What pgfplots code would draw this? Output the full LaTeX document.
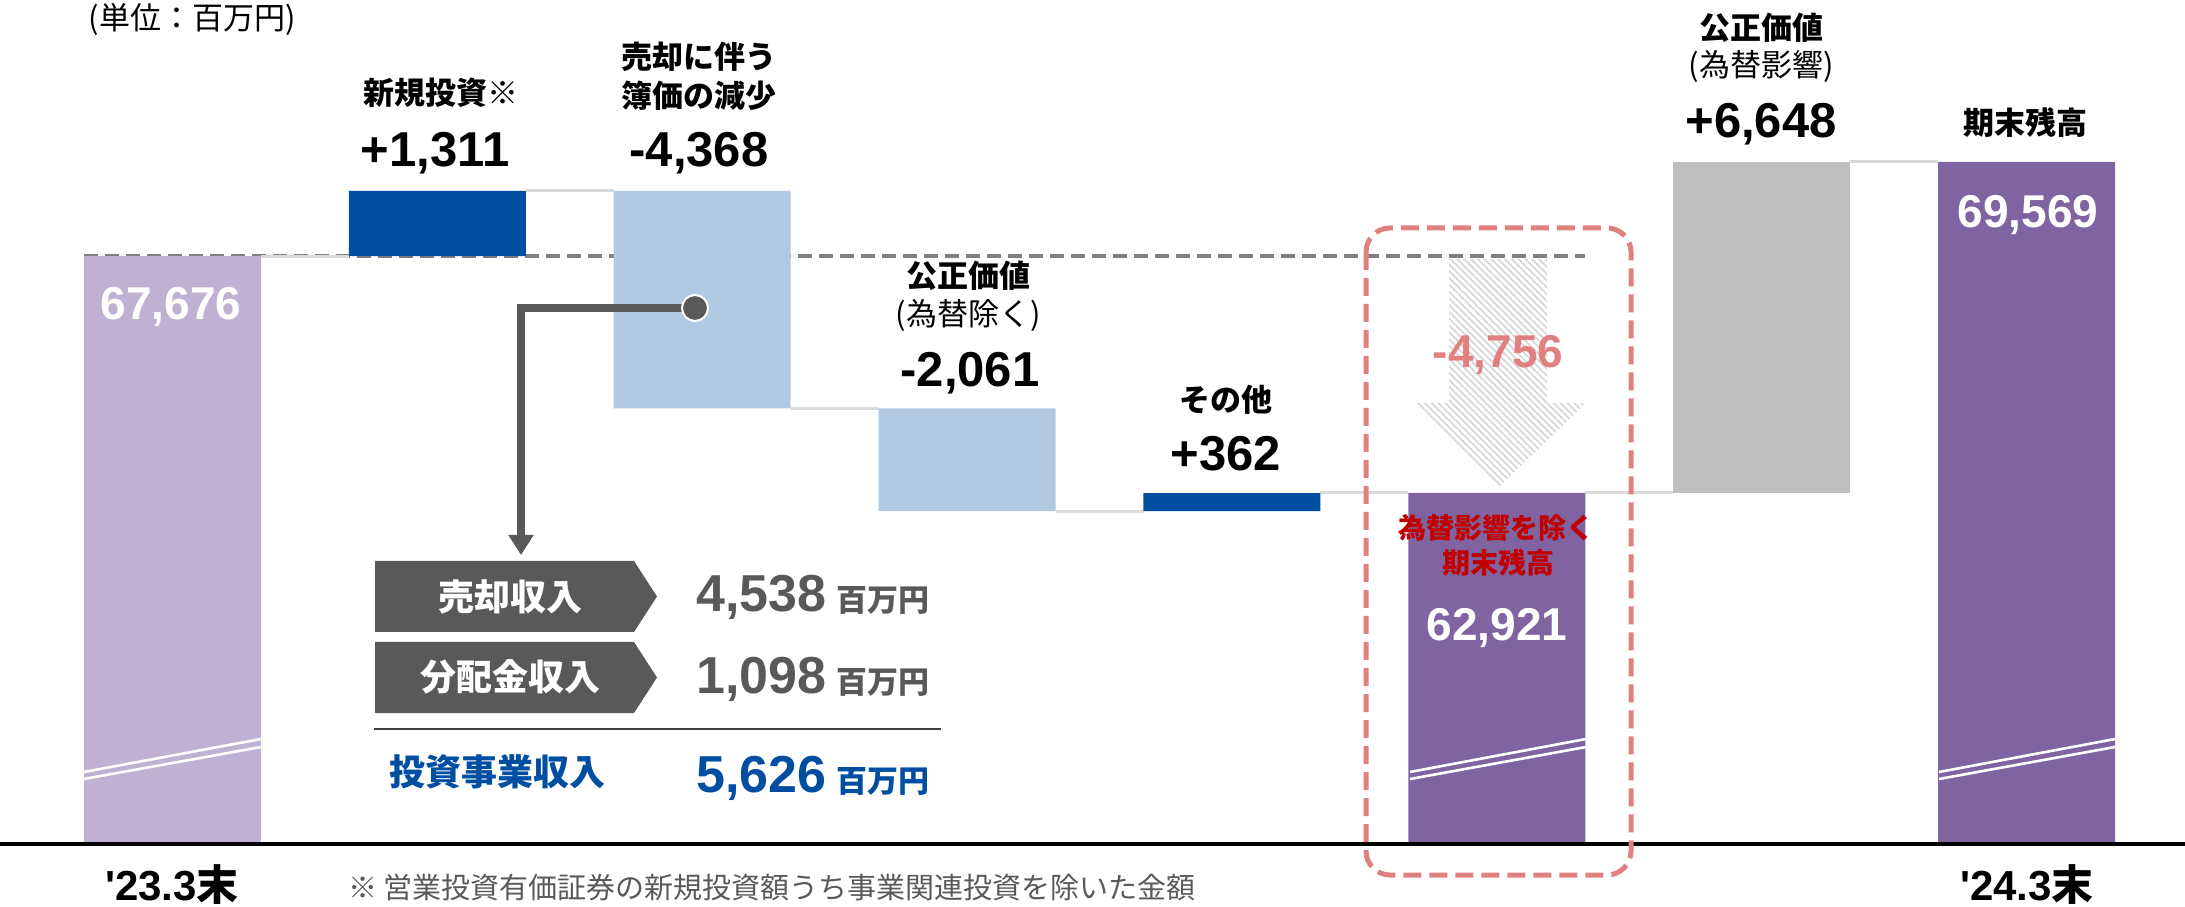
\documentclass[border=0pt]{standalone}
\usepackage{fontspec}
\setmainfont{Liberation Sans}
\newfontfamily\jp{Noto Sans CJK JP}
\usepackage{pgfplots}
\pgfplotsset{compat=1.18}
\usepackage{pgfplotstable}
\usetikzlibrary{patterns.meta,arrows.meta}
\definecolor{lpurple}{HTML}{BFB1D1}
\definecolor{dblue}{HTML}{004EA2}
\definecolor{lblue}{HTML}{B3C8E3}
\definecolor{purple2}{HTML}{8064A2}
\definecolor{gbar}{HTML}{BFBFBF}
\definecolor{dgray}{HTML}{595959}
\definecolor{conn}{HTML}{D9D9D9}
\definecolor{rbox}{HTML}{E08080}
\definecolor{dred}{HTML}{C00000}
\definecolor{dashgray}{HTML}{7F7F7F}
\newcommand{\fs}[1]{\fontsize{#1}{#1}\selectfont}

\pgfplotstableread{
x base lp db lb pu gr
0 0 67676 0 0 0 0
1 67676 0 1311 0 0 0
2 64619 0 0 4368 0 0
3 62558 0 0 2061 0 0
4 62558 0 362 0 0 0
5 0 0 0 0 62921 0
6 62921 0 0 0 0 6648
7 0 0 0 0 69569 0
}\wf

\begin{document}
\begin{tikzpicture}
\path[use as bounding box] (0,-31.5pt) rectangle (1092.5pt,421.5pt);
\begin{axis}[at={(0,0)}, anchor=south west, scale only axis,
  width=1092.5pt, height=421.5pt,
  xmin=-0.6513, xmax=7.598, ymin=55893, ymax=72822,
  axis lines=none, ybar stacked, bar width=88.5pt]
\addplot[draw=none, fill=none] table[x=x,y=base]{\wf};
\addplot[draw=none, fill=lpurple] table[x=x,y=lp]{\wf};
\addplot[draw=none, fill=dblue] table[x=x,y=db]{\wf};
\addplot[draw=none, fill=lblue] table[x=x,y=lb]{\wf};
\addplot[draw=none, fill=purple2] table[x=x,y=pu]{\wf};
\addplot[draw=none, fill=gbar] table[x=x,y=gr]{\wf};
% connectors
\draw[conn, line width=1.5pt] (axis cs:0.334,67676) -- (axis cs:0.666,67676);
\draw[conn, line width=1.5pt] (axis cs:1.334,68987) -- (axis cs:1.666,68987);
\draw[conn, line width=1.5pt] (axis cs:2.334,64619) -- (axis cs:2.666,64619);
\draw[conn, line width=1.5pt] (axis cs:3.334,62558) -- (axis cs:3.666,62558);
\draw[conn, line width=1.5pt] (axis cs:4.334,62921) -- (axis cs:4.666,62921);
\draw[conn, line width=1.5pt] (axis cs:5.334,62921) -- (axis cs:5.666,62921);
\draw[conn, line width=1.5pt] (axis cs:6.334,69569) -- (axis cs:6.666,69569);
% dashed reference
\draw[dashgray, line width=2pt, dash pattern=on 7pt off 3.5pt] (axis cs:-0.334,67676) -- (axis cs:5.334,67676);
\end{axis}
\begin{scope}[x=0.5pt, y=-0.5pt, shift={(0,421.5pt)}]
\tikzset{tx/.style={inner sep=0pt, anchor=center}, bx/.style={inner sep=0pt, anchor=base}}
% break marks
\foreach \xa/\xb in {84/261, 1410/1586, 1939/2115}{
  \draw[white, line width=1.3pt] (\xa,772) -- (\xb,739);
  \draw[white, line width=1.3pt] (\xa,779) -- (\xb,747);
}
% baseline
\draw[black, line width=2pt] (0,844) -- (2185,844);
% hatched arrow
\fill[pattern={Lines[angle=-45, distance=2.4pt, line width=0.8pt]}, pattern color=black!17]
  (1449,259) -- (1547,259) -- (1547,403) -- (1586,403) -- (1498,488) -- (1413,403) -- (1449,403) -- cycle;
% red dashed box
\draw[rbox, line width=2.5pt, dash pattern=on 9pt off 4pt, rounded corners=12pt] (1366,228) rectangle (1631,875);
% callout connector
\draw[dgray, line width=4pt, -{Triangle[width=12pt,length=10pt]}] (695,308) -- (521,308) -- (521,555);
\fill[dgray, draw=white, line width=1pt] (695,308) circle (6.5pt);
% chevrons
\fill[dgray] (375,561) -- (634,561) -- (657,596.5) -- (634,632) -- (375,632) -- cycle;
\fill[dgray] (375,642) -- (634,642) -- (657,677.5) -- (634,713) -- (375,713) -- cycle;
\draw[black!75, line width=1pt] (374,729) -- (941,729);
% texts
\node[tx] at (192,20) {\jp\fs{15.5}(単位：百万円)};
\node[tx] at (441,93) {\jp\fs{15.5}\bfseries 新規投資{\mdseries ※}};
\node[bx] at (435,167) {\fs{24.5}\bfseries +1,311};
\node[tx] at (699,57) {\jp\fs{15.5}\bfseries 売却に伴う};
\node[tx] at (699,96) {\jp\fs{15.5}\bfseries 簿価の減少};
\node[bx] at (699,167) {\fs{24.5}\bfseries -4,368};
\node[tx] at (968,276) {\jp\fs{15.5}\bfseries 公正価値};
\node[tx] at (968,316) {\jp\fs{15.5}(為替除く)};
\node[bx] at (970,387) {\fs{24.5}\bfseries -2,061};
\node[tx] at (1226,400) {\jp\fs{15.5}\bfseries その他};
\node[bx] at (1226,471) {\fs{24.5}\bfseries +362};
\node[tx] at (1761,28) {\jp\fs{15.5}\bfseries 公正価値};
\node[tx] at (1761,67) {\jp\fs{15.5}(為替影響)};
\node[bx] at (1761,138) {\fs{24.5}\bfseries +6,648};
\node[tx] at (2025,123) {\jp\fs{15.5}\bfseries 期末残高};
\node[bx, text=white] at (171,320) {\fs{23}\bfseries 67,676};
\node[bx, text=white] at (2028,228) {\fs{23}\bfseries 69,569};
\node[bx, text=white] at (1497,640) {\fs{23}\bfseries 62,921};
\node[bx, text=rbox] at (1498,368) {\fs{23}\bfseries -4,756};
\node[tx, text=dred] at (1496,528) {\jp\fs{14}\bfseries 為替影響を除く};
\node[tx, text=dred] at (1498,563) {\jp\fs{14}\bfseries 期末残高};
\node[tx, text=white] at (510,597) {\jp\fs{18}\bfseries 売却収入};
\node[tx, text=white] at (510,677) {\jp\fs{18}\bfseries 分配金収入};
\node[tx, text=dblue] at (497,772) {\jp\fs{18}\bfseries 投資事業収入};
\node[inner sep=0pt, anchor=base west, text=dgray] at (696,612) {\fs{26}\bfseries 4,538\hspace{5pt}{\jp\fs{15.5}百万円}};
\node[inner sep=0pt, anchor=base west, text=dgray] at (696,693) {\fs{26}\bfseries 1,098\hspace{5pt}{\jp\fs{15.5}百万円}};
\node[inner sep=0pt, anchor=base west, text=dblue] at (696,792) {\fs{26}\bfseries 5,626\hspace{5pt}{\jp\fs{15.5}百万円}};
\node[bx] at (172,900) {\fs{21}\bfseries \textquotesingle 23.3{\jp 末}};
\node[bx] at (2027,900) {\fs{21}\bfseries \textquotesingle 24.3{\jp 末}};
\node[inner sep=0pt, anchor=west, text=dgray] at (348,888) {\jp\fs{14.5}※ 営業投資有価証券の新規投資額うち事業関連投資を除いた金額};
\end{scope}
\end{tikzpicture}
\end{document}
